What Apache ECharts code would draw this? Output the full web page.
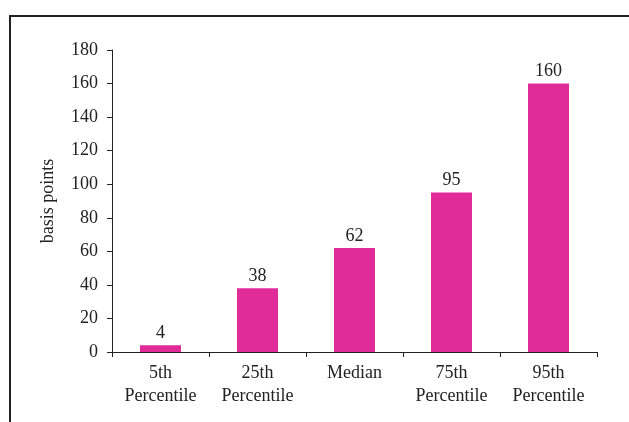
<!DOCTYPE html>
<html>
<head>
<meta charset="utf-8">
<script src="https://cdn.jsdelivr.net/npm/echarts@6/dist/echarts.min.js"></script>
<style>
html,body{margin:0;padding:0;background:#fff;}
#chart{width:629px;height:422px;}
</style>
</head>
<body>
<div id="chart"></div>
<script>
const categories = ['5th\nPercentile', '25th\nPercentile', 'Median', '75th\nPercentile', '95th\nPercentile'];
const values = [4, 38, 62, 95, 160];
const yTicks = [0, 20, 40, 60, 80, 100, 120, 140, 160, 180];

const FONT = 'Liberation Serif';
const FS = 18;
const chart = echarts.init(document.getElementById('chart'), null, {renderer: 'canvas'});
chart.setOption({
  animation: false,
  backgroundColor: '#fff',
  graphic: [{
    type: 'rect',
    shape: {x: 10, y: 16, width: 800, height: 600},
    style: {fill: 'none', stroke: '#222', lineWidth: 2},
    silent: true
  }],
  grid: {left: 112, top: 50, right: 32, bottom: 70},
  xAxis: {
    type: 'category',
    data: categories,
    axisLine: {lineStyle: {color: '#222', width: 1}},
    axisTick: {show: true, length: 5, lineStyle: {color: '#222'}},
    axisLabel: {
      color: '#222', fontFamily: FONT, fontSize: FS, lineHeight: 23, margin: 10,
      interval: 0
    }
  },
  yAxis: {
    type: 'value',
    min: 0, max: yTicks[yTicks.length - 1], interval: 20,
    name: 'basis points',
    nameLocation: 'middle',
    nameGap: 55,
    nameRotate: 90,
    nameTextStyle: {color: '#222', fontFamily: FONT, fontSize: FS},
    axisLine: {show: true, lineStyle: {color: '#222', width: 1}},
    axisTick: {show: true, length: 5, lineStyle: {color: '#222'}},
    axisLabel: {color: '#222', fontFamily: FONT, fontSize: FS, margin: 14},
    splitLine: {show: false}
  },
  series: [{
    type: 'bar',
    data: values,
    barWidth: 41,
    itemStyle: {color: '#E02B98'},
    label: {
      show: true, position: 'top', distance: 3,
      color: '#222', fontFamily: FONT, fontSize: FS
    }
  }]
});
</script>
</body>
</html>
